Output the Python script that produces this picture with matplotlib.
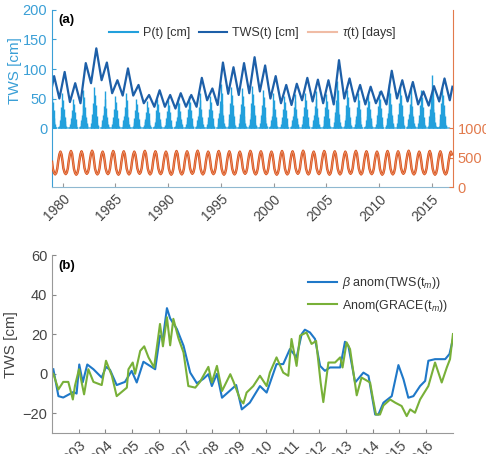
import numpy as np
import matplotlib
matplotlib.use("Agg")
import matplotlib.pyplot as plt
from matplotlib.lines import Line2D

plt.rcParams["font.family"] = ["Liberation Sans", "DejaVu Sans"]
plt.rcParams["mathtext.fontset"] = "custom"
plt.rcParams["mathtext.rm"] = "Liberation Sans"
plt.rcParams["mathtext.it"] = "Liberation Sans:italic"

# ---- panel (a) data: annual peaks / troughs ----
years = list(range(1979, 2017))
tws_peak = [88, 95, 76, 110, 135, 111, 81, 101, 73, 56, 64, 56, 59, 56, 85, 67, 111, 103, 110,
            120, 106, 88, 73, 75, 85, 82, 81, 115, 84, 73, 70, 62, 97, 81, 78, 62, 71, 84]
tws_trough = [50, 44, 42, 76, 81, 59, 55, 55, 42, 36, 36, 33, 36, 36, 47, 39, 58, 56, 59,
              62, 50, 42, 39, 47, 45, 42, 40, 50, 45, 40, 42, 40, 50, 45, 40, 38, 45, 47]
p_peak = [55, 60, 50, 65, 70, 62, 55, 60, 50, 45, 50, 48, 52, 55, 60, 55, 75, 70, 68,
          72, 65, 60, 55, 58, 60, 62, 58, 80, 65, 60, 58, 62, 75, 70, 68, 65, 90, 70]
# half-month precipitation profile across the wet season (relative to the yearly peak)
p_profile = [0.03, 0.06, 0.12, 0.22, 0.35, 0.25, 0.6, 0.4, 1.0, 0.5, 0.8, 0.35,
             0.55, 0.2, 0.3, 0.12, 0.07, 0.04, 0.02, 0.01, 0.01, 0.02, 0.01, 0.02]
tau_peak = [600, 610, 605, 615, 600, 610, 605, 600, 612, 605, 600, 610, 605, 615, 600, 610, 605,
            600, 612, 605, 600, 610, 605, 615, 600, 610, 605, 600, 612, 605, 600, 610, 605, 615,
            600, 610, 605, 600]
tau_trough = [215, 220, 210, 225, 215, 220, 210, 215, 225, 215, 220, 210, 215, 225, 215, 220, 210,
              215, 225, 215, 220, 210, 215, 225, 215, 220, 210, 215, 225, 215, 220, 210, 215, 225,
              215, 220, 210, 215]
# shape of one tau cycle: (phase in year, fraction between trough and peak)
tau_phase = [0.0, 0.08, 0.2, 0.3, 0.4, 0.5, 0.58, 0.7, 0.8, 0.9]
tau_frac = [0.55, 0.25, 0.06, 0.0, 0.06, 0.25, 0.55, 0.88, 1.0, 0.88]

# ---- panel (b) data ----
tb_model = [2002.05, 2002.24, 2002.42, 2002.80, 2002.92, 2003.02, 2003.15, 2003.32, 2003.55, 2003.86,
            2004.02, 2004.17, 2004.42, 2004.73, 2004.98, 2005.17, 2005.42, 2005.86, 2006.04, 2006.15,
            2006.30, 2006.42, 2006.67, 2006.92, 2007.17, 2007.42, 2007.67, 2007.85, 2007.98, 2008.17,
            2008.36, 2008.89, 2009.10, 2009.40, 2009.78, 2010.03, 2010.40, 2010.65, 2010.90, 2011.15,
            2011.34, 2011.46, 2011.65, 2011.84, 2012.03, 2012.21, 2012.40, 2012.78, 2012.96, 2013.09,
            2013.34, 2013.65, 2013.84, 2014.09, 2014.21, 2014.40, 2014.71, 2014.96, 2015.15, 2015.33,
            2015.52, 2015.77, 2015.96, 2016.08, 2016.33, 2016.71, 2016.87, 2017.0]
anom_model = [2.3, -11.3, -12, -9.2, -10, 4.7, -4.3, 4.7, 2.3, -1.9,
              3.5, 2, -5.7, -4.1, 1.5, -4.4, 6.1, 2.3, 19.3, 18,
              33.2, 28, 22.7, 14.2, 0.6, -4.8, -2.5, -0.2, -6.2, 0,
              -12.1, -5.7, -18, -14.6, -6.2, -9.5, 4.9, 4.9, 12.5, 8.3,
              20.1, 22.3, 20.9, 17.6, 4, 1.5, 3.2, 3.2, 16.2, 14,
              -4.4, 0.6, -1, -20.6, -20.6, -14.6, -11.3, 4.4, -2.8, -12.1,
              -11.3, -6.2, -3.6, 6.6, 7.4, 7.4, 10, 17.6]
tb_grace = [2002.05, 2002.24, 2002.42, 2002.61, 2002.78, 2002.86, 2003.01, 2003.20, 2003.36, 2003.55,
            2003.86, 2004.02, 2004.24, 2004.42, 2004.80, 2004.86, 2005.02, 2005.11, 2005.30, 2005.45,
            2005.61, 2005.82, 2006.04, 2006.15, 2006.30, 2006.42, 2006.54, 2006.73, 2006.92, 2007.10,
            2007.36, 2007.54, 2007.85, 2007.98, 2008.17, 2008.36, 2008.67, 2008.79, 2009.04, 2009.16,
            2009.28, 2009.53, 2009.78, 2010.03, 2010.15, 2010.40, 2010.65, 2010.84, 2010.96, 2011.15,
            2011.28, 2011.52, 2011.71, 2011.88, 2012.05, 2012.15, 2012.34, 2012.59, 2012.78, 2012.87,
            2013.02, 2013.15, 2013.40, 2013.58, 2013.90, 2014.00, 2014.12, 2014.27, 2014.40, 2014.65,
            2014.84, 2015.08, 2015.27, 2015.40, 2015.58, 2015.77, 2016.08, 2016.33, 2016.58, 2016.77,
            2016.89, 2017.0]
anom_grace = [0, -7.9, -4.1, -4.1, -13, -6, 2.3, -10.4, 2.3, -4.1,
              -5.7, 6.6, -1, -11.3, -7, 2.3, 5.7, 0, 11.6, 13.9,
              8.3, 3.2, 25.2, 13.9, 28.6, 14.4, 27.8, 18, 10.8, -6.2,
              -7, -4, 3.5, -4.4, 4, -8.7, -0.2, -4, -13, -15,
              -9.5, -6.2, -1, -6.2, 0.6, 8.3, 0.6, -1, 17.6, 4,
              19.3, 20.9, 15.1, 16.6, -4.4, -14.3, 5.7, 5.7, 8.3, 3.2,
              15.9, 12.5, -10.9, -1.9, -4.4, -12.1, -20.6, -20.6, -16, -13,
              -14.6, -16.3, -21.4, -18, -19.7, -13, -6.2, 5.7, -4.4, 3.2,
              7.4, 20.1]

c_p = "#22a0dc"
c_tws = "#1d5fa8"
c_left = "#3a9fd6"
c_tau = "#d9541c"
c_right = "#e27a4c"
c_model = "#1f78c8"
c_grace = "#78b038"
c_gray = "#444444"

fig = plt.figure(figsize=(4.86, 4.54), dpi=100)

# ---------------- (a) ----------------
ax = fig.add_axes([0.107, 0.588, 0.825, 0.390])
# precipitation spikes
for y, pk in zip(years, p_peak):
    t = [y - 0.35 + k / 24 for k in range(len(p_profile))]
    h = [pk * f for f in p_profile]
    ax.vlines(t, 0, h, color=c_p, lw=1.0)
# TWS line through annual peaks and troughs
t_tws, v_tws = [], []
for y, pk, tr in zip(years, tws_peak, tws_trough):
    t_tws += [y + 0.2, y + 0.7]
    v_tws += [pk, tr]
t_tws = [1979.0] + t_tws + [2016.95]
v_tws = [70] + v_tws + [70]
ax.plot(t_tws, v_tws, color=c_tws, lw=1.6)
ax.set_xlim(1979, 2017)
ax.set_ylim(-100, 200)
ax.set_yticks([0, 50, 100, 150, 200])
ax.set_xticks(range(1980, 2016, 5))
ax.set_xticklabels([str(v) for v in range(1980, 2016, 5)], rotation=45, ha="right",
                   rotation_mode="anchor", fontsize=10, color=c_gray)
ax.tick_params(axis="y", direction="in", colors=c_left, labelsize=10.5, length=3)
ax.tick_params(axis="x", direction="in", length=3, color="#999999")
ax.spines["top"].set_visible(False)
ax.spines["left"].set_color(c_left)
ax.spines["bottom"].set_color("#8fb8d0")
ax.spines["right"].set_visible(False)
ax.set_ylabel("TWS [cm]", color=c_left, fontsize=11)
ax.yaxis.set_label_coords(-0.075, 0.66)
ax.text(0.015, 0.975, "(a)", transform=ax.transAxes, fontsize=9.5, fontweight="bold", va="top")

ax2 = ax.twinx()
t_tau, v_tau = [], []
for y, pk, tr in zip(years, tau_peak, tau_trough):
    for ph, fr in zip(tau_phase, tau_frac):
        t_tau.append(y + ph)
        v_tau.append(tr + fr * (pk - tr))
ax2.plot(t_tau, v_tau, color=c_tau, lw=1.8)
ax2.plot(t_tau, v_tau, color="#f0a080", lw=0.6, alpha=0.8)
ax2.set_ylim(0, 3000)
ax2.set_yticks([0, 500, 1000])
ax2.tick_params(axis="y", direction="in", colors=c_right, labelsize=10.5, length=3)
for s in ["top", "left", "bottom"]:
    ax2.spines[s].set_visible(False)
ax2.spines["right"].set_color(c_right)

handles = [Line2D([], [], color=c_p, lw=1.5),
           Line2D([], [], color=c_tws, lw=1.5),
           Line2D([], [], color=c_right, lw=1.5, alpha=0.5)]
ax.legend(handles, ["P(t) [cm]", "TWS(t) [cm]", r"$\tau$(t) [days]"], loc="center",
          bbox_to_anchor=(0.5, 0.87), ncol=3, frameon=False, fontsize=9,
          handlelength=2.3, columnspacing=0.7, handletextpad=0.4, labelcolor="#333333")

# ---------------- (b) ----------------
bx = fig.add_axes([0.107, 0.046, 0.825, 0.392])
bx.plot(tb_model, anom_model, color=c_model, lw=1.5, label=r"$\beta$ anom(TWS(t$_m$))")
bx.plot(tb_grace, anom_grace, color=c_grace, lw=1.5, label=r"Anom(GRACE(t$_m$))")
bx.set_xlim(2002, 2017)
bx.set_ylim(-30, 60)
bx.set_yticks([-20, 0, 20, 40, 60])
bx.set_xticks(range(2003, 2017))
bx.set_xticklabels([str(v) for v in range(2003, 2017)], rotation=45, ha="right",
                   rotation_mode="anchor", fontsize=10.5, color=c_gray)
bx.tick_params(direction="in", length=3, colors="#888888", labelsize=10.5, labelcolor=c_gray)
bx.spines["top"].set_visible(False)
bx.spines["right"].set_visible(False)
bx.spines["left"].set_color("#999999")
bx.spines["bottom"].set_color("#999999")
bx.set_ylabel("TWS [cm]", color=c_gray, fontsize=11)
bx.yaxis.set_label_coords(-0.085, 0.5)
bx.text(0.015, 0.975, "(b)", transform=bx.transAxes, fontsize=9.5, fontweight="bold", va="top")
bx.legend(loc="upper left", bbox_to_anchor=(0.61, 0.95), frameon=False, fontsize=9,
          handlelength=2.3, handletextpad=0.4, labelspacing=0.5, labelcolor="#333333")

fig.savefig("out.png", dpi=100)
